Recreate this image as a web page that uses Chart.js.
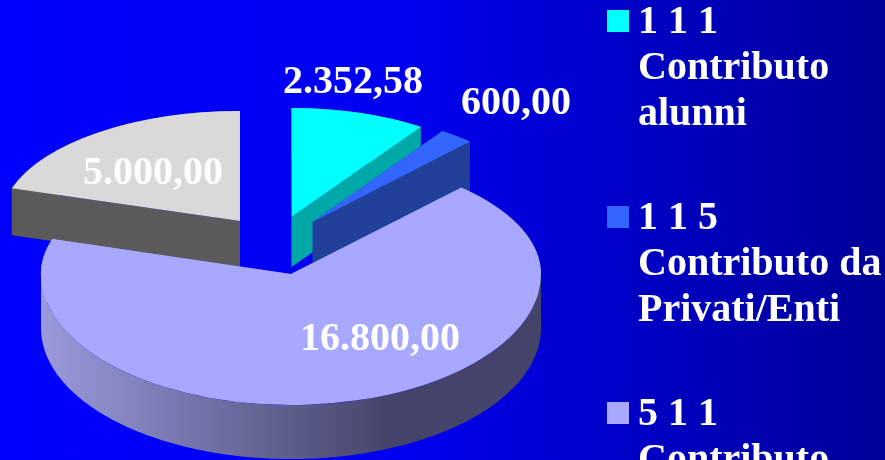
<!DOCTYPE html>
<html><head><meta charset="utf-8">
<style>html,body{margin:0;padding:0;background:#0000c0;overflow:hidden}canvas{display:block}</style>
<script src="https://cdn.jsdelivr.net/npm/chart.js@4"></script></head>
<body><canvas id="c" width="885" height="460"></canvas>
<script>
const categories = ['1 1 1 Contributo alunni','1 1 5 Contributo da Privati/Enti','5 1 1 Contributo',''];
const values = [2352.58, 600, 16800, 5000];
const topColors = ['#00FFFF','#3366FF','#A8A8FF','#D9D9D9'];
const wallColors = ['#00A8A8','#20409A',null,'#5A5A5A'];
const legendLines = [['1 1 1','Contributo','alunni'],['1 1 5','Contributo da','Privati/Enti'],['5 1 1','Contributo']];

// 3D projection of each exploded slice: apex, horizontal radius, vertical radii behind/in front, thickness
const projection = [
  {cx:291.5,cy:217,rx:230,ryBack:109,ryFront:109,depth:50},
  {cx:312.5,cy:222,rx:231,ryBack:110,ryFront:110,depth:49},
  {cx:291,cy:274,rx:250,ryBack:118,ryFront:131,depth:54},
  {cx:240,cy:221,rx:239,ryBack:110,ryFront:110,depth:47}
];
const paintOrder = [3,0,1,2];
const labelCentres = [[353,83],[516,104],[380,340],[153,174]];
const fmt = v => { const [i,d] = v.toFixed(2).split('.'); return i.replace(/\B(?=(\d{3})+$)/g,'.') + ',' + d; };
const FONT = 'bold 40px "Liberation Serif"';

function paintTop(ctx, arc, p, fill){
  const R = arc.outerRadius;
  const orig = arc.options;
  arc.options = Object.assign(Object.create(orig), {backgroundColor: fill, borderWidth: 0});
  [[p.ryBack,-2000,p.cy],[p.ryFront,p.cy,2000]].forEach(([ry,y0,y1]) => {
    ctx.save();
    ctx.beginPath(); ctx.rect(-100, y0, 1200, y1-y0); ctx.clip();
    ctx.translate(p.cx, p.cy);
    ctx.scale(p.rx/R, ry/R);
    ctx.translate(-arc.x, -arc.y);
    arc.draw(ctx);
    ctx.restore();
  });
  arc.options = orig;
}
// Outline of a slice (from the angles the pie controller computed), swept down by its thickness as one single path
function paintWall(ctx, arc, p, fill){
  const pts = [[p.cx,p.cy]];
  const steps = Math.ceil((arc.endAngle-arc.startAngle)*60);
  for(let s=0;s<=steps;s++){
    const a = arc.startAngle + (arc.endAngle-arc.startAngle)*s/steps, sn = Math.sin(a);
    pts.push([p.cx+p.rx*Math.cos(a), p.cy+(sn<0?p.ryBack:p.ryFront)*sn]);
  }
  ctx.beginPath();
  pts.forEach((q,i) => {
    const r = pts[(i+1)%pts.length];
    const quad = [q,r,[r[0],r[1]+p.depth],[q[0],q[1]+p.depth]];
    const area = (r[0]-q[0])*p.depth;
    if(area===0 && q[0]===r[0]) return;
    (area>0?quad:quad.slice().reverse()).forEach((c,k)=> k?ctx.lineTo(c[0],c[1]):ctx.moveTo(c[0],c[1]));
    ctx.closePath();
  });
  ctx.fillStyle = fill;
  ctx.fill();
}

const scene = {
  id:'scene',
  beforeDraw(chart){
    const {ctx,width,height} = chart;
    const g = ctx.createLinearGradient(0,0,width,0);
    g.addColorStop(0,'#0000FF'); g.addColorStop(0.45,'#0000F0'); g.addColorStop(1,'#000098');
    ctx.fillStyle = g; ctx.fillRect(0,0,width,height);
  },
  afterLayout(chart){
    const l = chart.legend, pad = l.options.labels.padding;
    l.left = 617.5 - pad; l.top = 3 - pad;
    l.maxHeight = 3000;
    l.fit();
    l.right = l.left + 400; l.bottom = 3000;
  },
  beforeDatasetsDraw(chart){
    const ctx = chart.ctx, arcs = chart.getDatasetMeta(0).data;
    paintOrder.forEach(i => {
      const arc = arcs[i], p = projection[i];
      let wall = wallColors[i];
      if(!wall){
        wall = ctx.createLinearGradient(p.cx-p.rx,0,p.cx+p.rx,0);
        wall.addColorStop(0,'#9A9ADC'); wall.addColorStop(0.7,'#44446A'); wall.addColorStop(1,'#44446A');
      }
      paintWall(ctx,arc,p,wall);
      paintTop(ctx,arc,p,topColors[i]);
    });
    return false;
  },
  afterDraw(chart){
    const ctx = chart.ctx;
    ctx.save();
    ctx.font = FONT; ctx.fillStyle = '#fff'; ctx.textAlign='center'; ctx.textBaseline='middle';
    values.forEach((v,i) => ctx.fillText(fmt(v), labelCentres[i][0], labelCentres[i][1]));
    ctx.restore();
  }
};
function marker(color){
  const m = document.createElement('canvas');
  m.width = 22; m.height = 26;
  const x = m.getContext('2d'); x.fillStyle = color; x.fillRect(0,0,22,22);
  return m;
}
new Chart(document.getElementById('c'),{
  type:'pie',
  data:{labels:categories,datasets:[{data:values,backgroundColor:topColors,borderWidth:0}]},
  options:{
    responsive:false,animation:false,
    events:[],
    plugins:{
      tooltip:{enabled:false},
      legend:{position:'right',align:'start',labels:{
        padding:58,usePointStyle:true,pointStyleWidth:0.5,color:'#fff',
        font:{family:'"Liberation Serif"',size:40,weight:'bold',lineHeight:1.15},
        generateLabels:()=>legendLines.map((t,i)=>({text:t,pointStyle:marker(topColors[i]),fillStyle:topColors[i],strokeStyle:topColors[i],lineWidth:0,fontColor:'#fff',datasetIndex:0,index:i}))
      }}
    }
  },
  plugins:[scene]
});
</script></body></html>
